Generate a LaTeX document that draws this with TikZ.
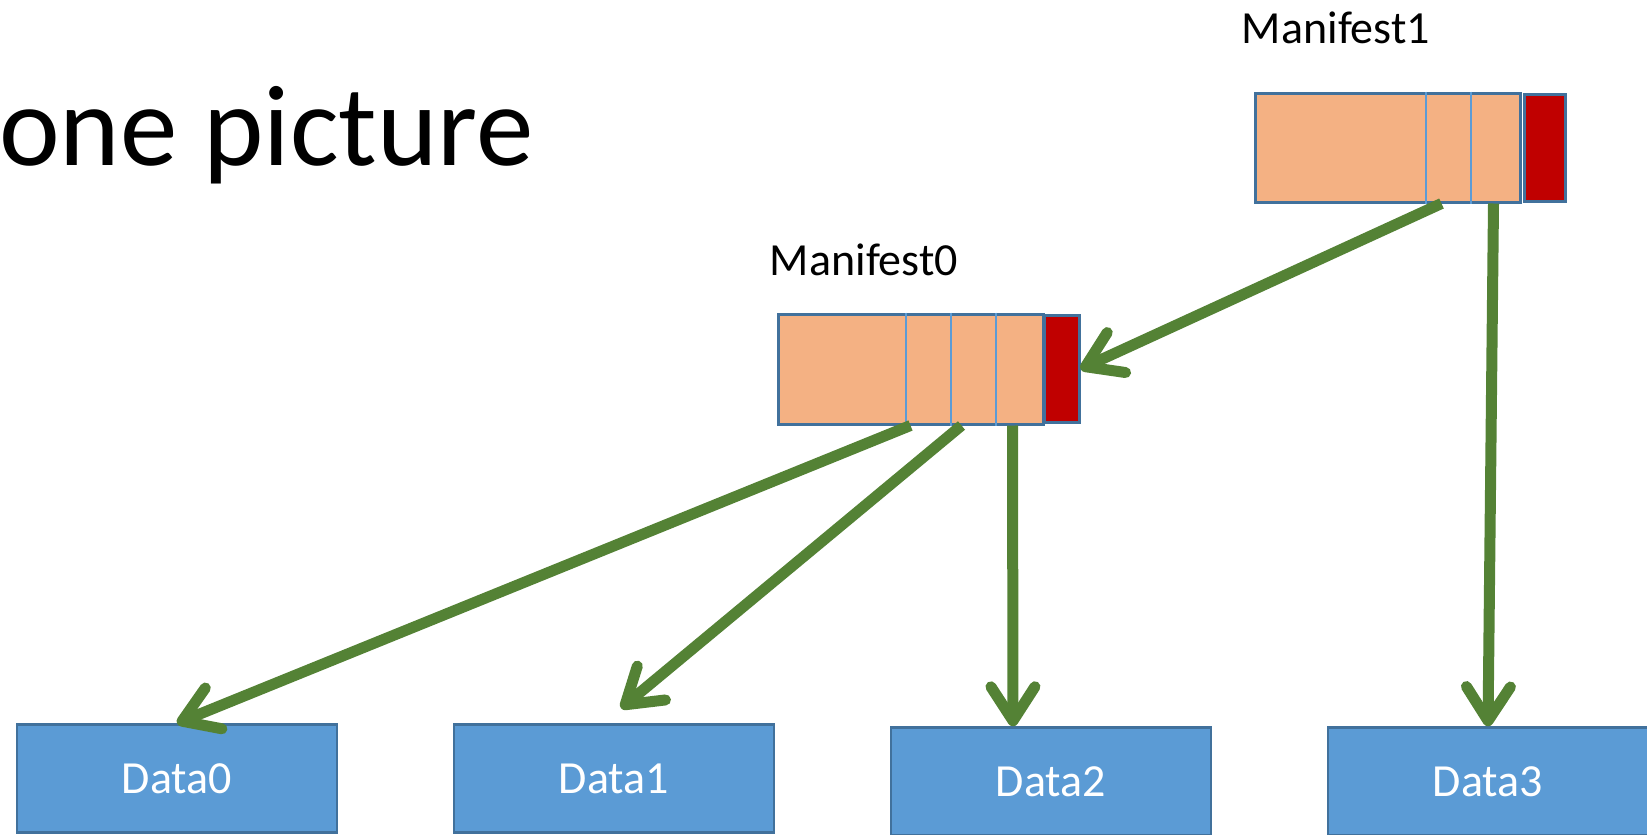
\documentclass[tikz,border=0pt]{standalone}
\usepackage{fontspec}
\setmainfont{Carlito}
\usepackage{xcolor}
\usepackage{tikz}
\usetikzlibrary{positioning,arrows.meta}

\definecolor{peach}{HTML}{F4B183}
\definecolor{tagred}{HTML}{C00000}
\definecolor{boxblue}{HTML}{5B9BD5}
\definecolor{edgeblue}{HTML}{41719C}
\definecolor{linkgreen}{HTML}{548235}

\begin{document}
\begin{tikzpicture}[x=1pt,y=-1pt,node distance=437pt]
      \tikzstyle{manifest} = [rectangle, minimum width=265pt, minimum height=110pt, inner sep=0pt, draw=edgeblue, line width=3pt, fill=peach]
      \tikzstyle{tag} = [rectangle, minimum height=107pt, inner sep=0pt, draw=edgeblue, line width=3pt, fill=tagred]
      \tikzstyle{data} = [rectangle, minimum width=320pt, minimum height=108pt, inner sep=0pt, draw=edgeblue, line width=2.5pt, fill=boxblue, text=white, font=\fontsize{46}{50}\selectfont]
      \tikzstyle{heading} = [anchor=base, inner sep=0pt, font=\fontsize{46}{50}\selectfont]
      \tikzstyle{divider} = [draw=boxblue, line width=2pt]
      \tikzstyle{arrow} = [draw=linkgreen, line width=11pt, -{Straight Barb[length=34pt,width=44pt,round]}]

      \useasboundingbox (0,0) rectangle (1647,835);

      \node (title) [anchor=base west, inner sep=0pt, font=\fontsize{115}{124}\selectfont] at (-1,165) {one picture};

      % manifests with their signature tags
      \node (m0) [manifest] at (910.5,369) {};
      \node (m0tag) [tag, minimum width=35pt, right=-2pt of m0] {};
      \node (m1) [manifest, minimum height=109pt] at (1387.5,147.5) {};
      \node (m1tag) [tag, minimum width=41pt, right=1pt of m1] {};
      \node (m0name) [heading] at (864,275) {Manifest0};
      \node (m1name) [heading] at (1336,43) {Manifest1};

      \foreach \dx in {129,174,219}
        \draw [divider] ([xshift=\dx pt]m0.north west) -- ([xshift=\dx pt]m0.south west);
      \foreach \dx in {172,217}
        \draw [divider] ([xshift=\dx pt]m1.north west) -- ([xshift=\dx pt]m1.south west);

      % data blocks
      \node (d0) [data] at (177,778.5) {Data0};
      \node (d1) [data, right of=d0] {Data1};
      \node (d2) [data, right of=d1, yshift=-3pt] {Data2};
      \node (d3) [data, right of=d2] {Data3};

      \draw [arrow] ([xshift=188pt]m1.south west) -- (m0tag.east);
      \draw [arrow] ([xshift=240pt]m1.south west) -- (d3.north);
      \draw [arrow] ([xshift=134pt]m0.south west) -- (d0.north);
      \draw [arrow] ([xshift=185pt]m0.south west) -- ([xshift=7pt,yshift=15pt]d1.north);
      \draw [arrow] ([xshift=236pt]m0.south west) -- ([xshift=-38pt]d2.north);
    \end{tikzpicture}
\end{document}
